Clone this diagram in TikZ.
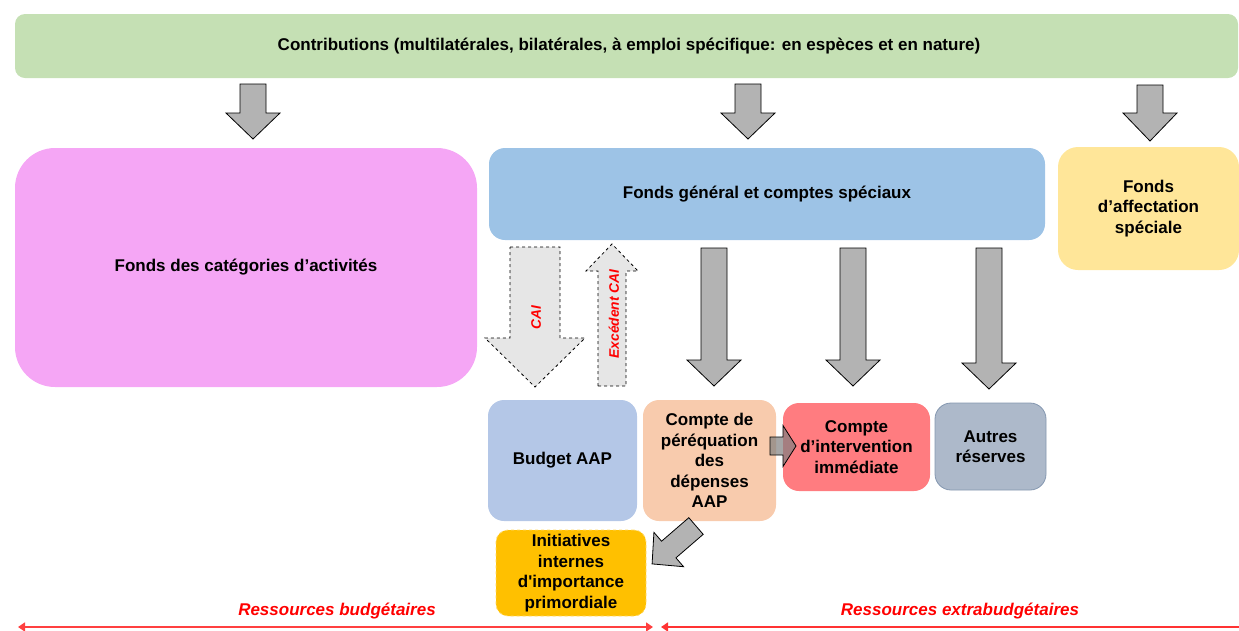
\documentclass[tikz,border=0pt]{standalone}
\usepackage{fontspec}
\setmainfont{Liberation Sans}[Ligatures=TeXOff]
\usetikzlibrary{arrows.meta}
\definecolor{cgreen}{HTML}{C5E0B4}
\definecolor{cpink}{HTML}{F5A6F5}
\definecolor{cblue}{HTML}{9DC3E6}
\definecolor{cyellow}{HTML}{FFE699}
\definecolor{cbudget}{HTML}{B4C7E7}
\definecolor{cpereq}{HTML}{F8CBAD}
\definecolor{cinterv}{HTML}{FF7C80}
\definecolor{cautres}{HTML}{ADB9CA}
\definecolor{cautresb}{HTML}{8497B0}
\definecolor{cinit}{HTML}{FFC000}
\definecolor{carrow}{HTML}{B3B3B3}
\definecolor{cdash}{HTML}{E6E6E6}
\definecolor{cred}{HTML}{FF0000}
\newcommand\dfont{\fontsize{17}{20.5}\selectfont\bfseries}
\newcommand\sfont{\fontsize{13.8}{16}\selectfont\bfseries}
% block arrow: cx, ybase, yheadbase, ytip, half shaft, half head
\newcommand\blockv[7][]{%
  \draw[#1] ({#2-#6},#3) -- ({#2+#6},#3) -- ({#2+#6},#4) -- ({#2+#7},#4) -- (#2,#5)
    -- ({#2-#7},#4) -- ({#2-#6},#4) -- cycle;}
% rotated block arrow: x, y, angle, shaft length, total length, half shaft, half head
\newcommand\blockr[8][]{%
  \begin{scope}[shift={(#2,#3)},rotate=#4]
  \draw[#1] (0,{-#7}) -- (#5,{-#7}) -- (#5,{-#8}) -- (#6,0) -- (#5,#8) -- (#5,#7) -- (0,#7) -- cycle;
  \end{scope}}
\begin{document}
\begin{tikzpicture}[x=1pt,y=-1pt,
  box/.style={rounded corners=16pt,align=center,font=\dfont,inner sep=2pt},
  garrow/.style={fill=carrow,draw=black,line width=0.8pt},
  darrow/.style={fill=cdash,draw=black,dashed,line width=0.8pt},
  lbl/.style={text=cred,font=\dfont\itshape},
  slbl/.style={text=cred,font=\sfont\itshape}]
\useasboundingbox (0,0) rectangle (1239,630);
\clip (0,0) rectangle (1239,630);

% boxes
\node[box,fill=cgreen,rounded corners=10pt,minimum width=1223pt,minimum height=64pt] (contrib) at (626.5,46)
  {\hspace*{5pt}Contributions (multilatérales, bilatérales, à emploi spécifique: en espèces et en nature)};
\node[box,fill=cpink,rounded corners=40pt,minimum width=462pt,minimum height=239pt] (cat) at (246,267.5)
  {Fonds des catégories d’activités};
\node[box,fill=cblue,minimum width=556pt,minimum height=92pt] (gen) at (767,194)
  {Fonds général et comptes spéciaux};
\node[box,fill=cyellow,rounded corners=20pt,minimum width=181pt,minimum height=123pt] (affect) at (1148.5,208.5)
  {Fonds\\d’affectation\\spéciale};
\node[box,fill=cbudget,minimum width=149pt,minimum height=121pt] (budget) at (562.5,460.5)
  {Budget AAP};
\node[box,fill=cpereq,minimum width=133pt,minimum height=121pt] (pereq) at (709.5,460.5)
  {Compte de\\péréquation\\des\\dépenses\\AAP};
\node[box,fill=cinterv,minimum width=147pt,minimum height=88pt] (interv) at (856.5,447)
  {Compte\\d’intervention\\immédiate};
\node[box,fill=cautres,draw=cautresb,line width=0.8pt,minimum width=111pt,minimum height=87pt] (autres) at (990.5,446.5)
  {Autres\\réserves};
\node[box,fill=cinit,draw=cinit!60!white,dashed,line width=0.8pt,rounded corners=12pt,minimum width=150pt,minimum height=86pt] (init) at (571,573)
  {Initiatives\\internes\\d'importance\\primordiale};

% top arrows
\blockv[garrow]{253}{84}{113}{139}{13}{27}
\blockv[garrow]{748}{84}{113}{139}{13}{27}
\blockv[garrow]{1150}{85}{113}{141}{13}{27}

% CAI arrows
\blockv[darrow]{535}{247}{338}{387}{25}{50}
\blockv[darrow]{612}{386}{271}{244}{14}{26}
\node[slbl,rotate=90] (cai) at (536,318) {CAI};
\node[slbl,rotate=90] (exc) at (614,314) {Excédent CAI};

% gray arrows from general fund
\blockv[garrow]{714}{248}{360}{386}{13}{27}
\blockv[garrow]{853}{248}{360}{386}{13}{27}
\blockv[garrow]{989}{248}{363}{389}{13}{27}

% small arrow pereq -> interv
\blockr[fill=black!50,fill opacity=0.7,draw=black,line width=0.8pt]{770}{446}{0}{13}{26}{9}{20.5}

% diagonal arrow pereq -> init
\blockr[garrow]{696}{526}{220.8}{36}{58}{11}{22.7}

% bottom labels and lines
\node[lbl] (rb) at (337,611) {Ressources budgétaires};
\node[lbl] (re) at (960,611) {Ressources extrabudgétaires};
\coordinate (l1) at (18,627);
\coordinate (l2) at (653,627);
\coordinate (r1) at (661,627);
\coordinate (r2) at (1245,627);
\draw[cred!75,line width=1.6pt,{Triangle[length=7pt,width=9pt]}-{Triangle[length=7pt,width=9pt]}] (l1) -- (l2);
\draw[cred!80,line width=1.6pt,{Triangle[length=7pt,width=9pt]}-] (r1) -- (r2);
\end{tikzpicture}
\end{document}
